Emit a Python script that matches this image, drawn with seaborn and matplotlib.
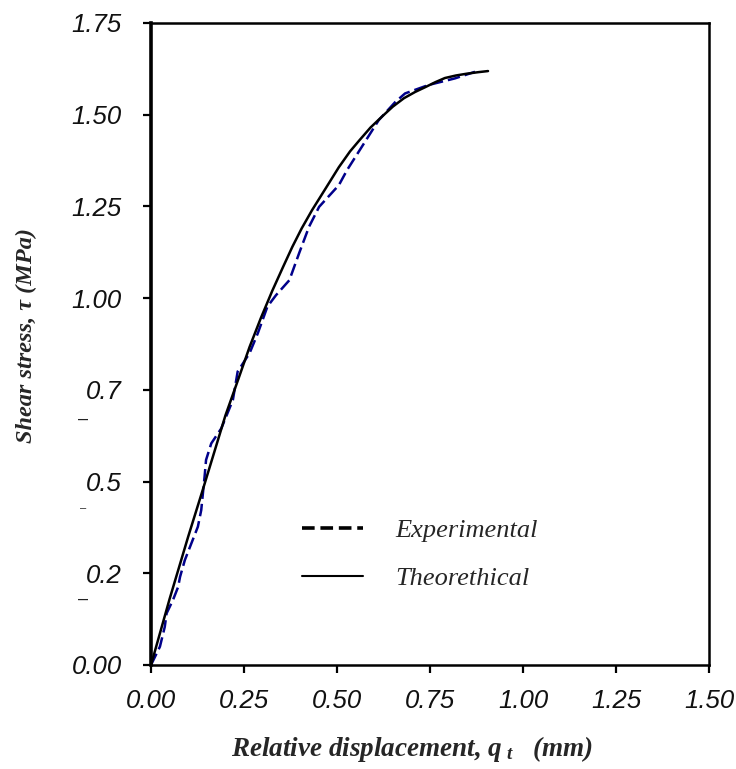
import matplotlib
matplotlib.use("Agg")
import matplotlib.pyplot as plt
from matplotlib.lines import Line2D
import seaborn as sns
import pandas as pd

# ---- data ----
exp_x = [0.0, 0.024, 0.037, 0.042, 0.059, 0.073, 0.078, 0.091, 0.126, 0.135, 0.144, 0.148,
         0.162, 0.189, 0.22, 0.233, 0.265, 0.287, 0.313, 0.336, 0.372, 0.398, 0.425, 0.452,
         0.505, 0.527, 0.612, 0.657, 0.683, 0.746, 0.817, 0.871]
exp_y = [0.0, 0.05, 0.104, 0.141, 0.177, 0.213, 0.24, 0.286, 0.377, 0.422, 0.513, 0.559,
         0.604, 0.645, 0.722, 0.80, 0.85, 0.904, 0.977, 1.008, 1.049, 1.122, 1.195, 1.249,
         1.308, 1.349, 1.485, 1.535, 1.558, 1.581, 1.599, 1.617]

theo_x = [0.0, 0.05, 0.1, 0.139, 0.17, 0.2, 0.235, 0.265, 0.295, 0.326, 0.355, 0.38, 0.405,
          0.433, 0.47, 0.505, 0.535, 0.56, 0.59, 0.62, 0.65, 0.68, 0.71, 0.737, 0.765, 0.79,
          0.82, 0.85, 0.88, 0.906]
theo_y = [0.0, 0.18, 0.35, 0.477, 0.58, 0.68, 0.78, 0.867, 0.945, 1.02, 1.085, 1.14, 1.19,
          1.24, 1.30, 1.357, 1.40, 1.43, 1.465, 1.494, 1.522, 1.545, 1.562, 1.575, 1.589, 1.60,
          1.607, 1.612, 1.616, 1.619]

x_ticks = [0.0, 0.25, 0.5, 0.75, 1.0, 1.25, 1.5]
x_tick_labels = ["0.00", "0.25", "0.50", "0.75", "1.00", "1.25", "1.50"]
y_ticks = [0.0, 0.25, 0.5, 0.75, 1.0, 1.25, 1.5, 1.75]
y_tick_labels = ["0.00", "0.2", "0.5", "0.7", "1.00", "1.25", "1.50", "1.75"]
series_names = ["Experimental", "Theorethical"]

df_exp = pd.DataFrame({"x": exp_x, "y": exp_y})
df_theo = pd.DataFrame({"x": theo_x, "y": theo_y})

sns.set_theme(style="ticks")
plt.rcParams["font.family"] = ["Liberation Sans", "DejaVu Sans"]
plt.rcParams["mathtext.fontset"] = "custom"
plt.rcParams["mathtext.it"] = "Liberation Serif:italic:bold"
plt.rcParams["mathtext.rm"] = "Liberation Serif:bold"

fig = plt.figure(figsize=(7.36, 7.69), dpi=100)
ax = fig.add_axes([151 / 736, 1 - 665 / 769, (709 - 151) / 736, (665 - 23) / 769])

sns.lineplot(data=df_exp, x="x", y="y", ax=ax, sort=False, color="#00008B",
             linewidth=1.8, estimator=None)
ax.lines[-1].set_dashes([5, 2])
sns.lineplot(data=df_theo, x="x", y="y", ax=ax, sort=False, color="black",
             linewidth=1.8, estimator=None)

ax.set_xlim(0, 1.5)
ax.set_ylim(0, 1.75)
ax.set_xticks(x_ticks)
ax.set_xticklabels(x_tick_labels)
ax.set_yticks(y_ticks)
ax.set_yticklabels(y_tick_labels)
for lab in ax.get_xticklabels() + ax.get_yticklabels():
    lab.set_fontstyle("italic")
    lab.set_fontsize(18.5)
    lab.set_color("#111111")

ax.tick_params(axis="both", direction="out", length=6, width=1.6, color="black")
ax.tick_params(axis="x", pad=11)
ax.tick_params(axis="y", pad=15)

for side, sp in ax.spines.items():
    sp.set_visible(True)
    sp.set_color("black")
    sp.set_linewidth(1.8)
ax.spines["left"].set_linewidth(2.6)

# stray fragments under some y tick labels
for yv, sz in [(0.67, 13), (0.428, 8), (0.18, 13)]:
    ax.text(-0.122, yv, "\u2013", transform=ax.get_yaxis_transform(), fontsize=sz,
            ha="center", va="center", color="#222222", family="Liberation Sans")

ax.set_xlabel(r"Relative displacement, $q_{\ t}$   (mm)", family="Liberation Serif",
              style="italic", weight="bold", fontsize=19.5)
ax.xaxis.set_label_coords(0.468, -0.107)
ax.set_ylabel("Shear stress, \u03c4 (MPa)", family="Liberation Serif",
              style="italic", weight="bold", fontsize=17.5)
ax.yaxis.set_label_coords(-0.204, 0.514)

handles = [Line2D([], [], color="black", linewidth=2.6, dashes=[3.5, 1.6]),
           Line2D([], [], color="black", linewidth=1.5)]
leg = ax.legend(handles, series_names, loc="upper left",
                bbox_to_anchor=(302 / 736, 1 - 519 / 769), bbox_transform=fig.transFigure,
                frameon=False, borderpad=0, borderaxespad=0,
                handlelength=2.33, handletextpad=1.22, labelspacing=0.92,
                prop={"family": "Liberation Serif", "style": "italic", "size": 19})

fig.savefig("out.png", dpi=100, facecolor="white")
